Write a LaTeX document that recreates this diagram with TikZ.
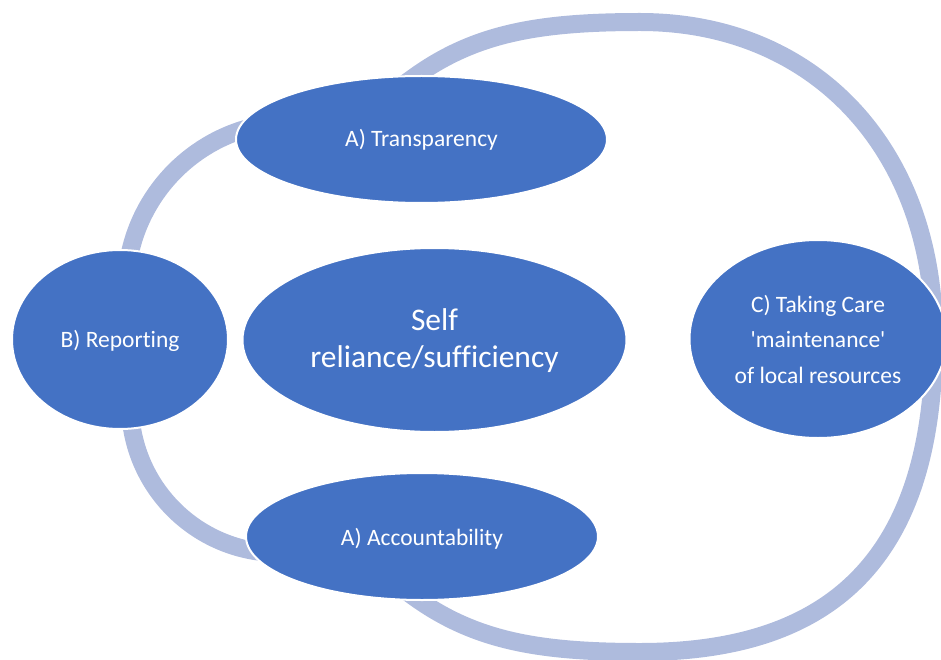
\documentclass[tikz,border=0pt]{standalone}
\usepackage{fontspec}
\setmainfont{Carlito}[Ligatures={TeXOff,CommonOff}]
\usetikzlibrary{shapes.geometric}
\definecolor{nodeblue}{RGB}{68,114,196}
\definecolor{ringblue}{RGB}{174,187,221}
\begin{document}
\begin{tikzpicture}[x=1pt,y=-1pt,
  blob/.style={ellipse, fill=nodeblue, draw=white, line width=2pt, inner sep=0pt},
  ring/.style={draw=ringblue, line width=18pt},
  lbl/.style={text=white, anchor=base, inner sep=0pt, font=\fontsize{23.5}{28}\selectfont},
  biglbl/.style={lbl, font=\fontsize{31.5}{36}\selectfont}]
\useasboundingbox (0,0) rectangle (941,660);
\clip (0,0) rectangle (941,660);

% key points of the large outer loop
\coordinate (loopin)  at (403,85);
\coordinate (loopa)   at (417,75);
\coordinate (looptop) at (640,22);
\coordinate (loopr)   at (934,337);
\coordinate (loopbot) at (640,652);
\coordinate (loopb)   at (417,599);
\coordinate (loopout) at (403,589);
% centres of the two small arcs on the left
\coordinate (upperhub) at (293,289);
\coordinate (lowerhub) at (279,404);

% rings behind the ellipses
\draw[ring] (loopin) -- (loopa)
  .. controls (477,33) and (540,22) .. (looptop)
  .. controls (815,22) and (934,150) .. (loopr)
  .. controls (934,550) and (840,652) .. (loopbot)
  .. controls (540,652) and (477,641) .. (loopb) -- (loopout);
\draw[ring] (upperhub) ++(-170:167) arc[start angle=-170, end angle=-104, radius=167];
\draw[ring] (lowerhub) ++(174:149) arc[start angle=174, end angle=96, radius=149];

% ellipses
\node[blob, minimum width=371, minimum height=127] (trans) at (421.5,139.5) {};
\node[blob, minimum width=216, minimum height=179] (rep) at (120,339.5) {};
\node[blob, minimum width=384, minimum height=184] (self) at (434.5,340) {};
\node[blob, minimum width=352, minimum height=127] (acc) at (422,536.5) {};
\node[blob, minimum width=257, minimum height=198] (care) at (818,339) {};

% labels
\node[lbl] (transtxt) at (421.5,147) {A) Transparency};
\node[lbl] (reptxt) at (120,347) {B) Reporting};
\node[biglbl] (selftxta) at (434.5,330.5) {Self};
\node[biglbl] (selftxtb) at (434.5,367) {reliance/sufficiency};
\node[lbl] (acctxt) at (422,545) {A) Accountability};
\node[lbl] (caretxta) at (818,312) {C) Taking Care};
\node[lbl] (caretxtb) at (818,347) {'maintenance'};
\node[lbl] (caretxtc) at (818,383) {of local resources};
\end{tikzpicture}
\end{document}
